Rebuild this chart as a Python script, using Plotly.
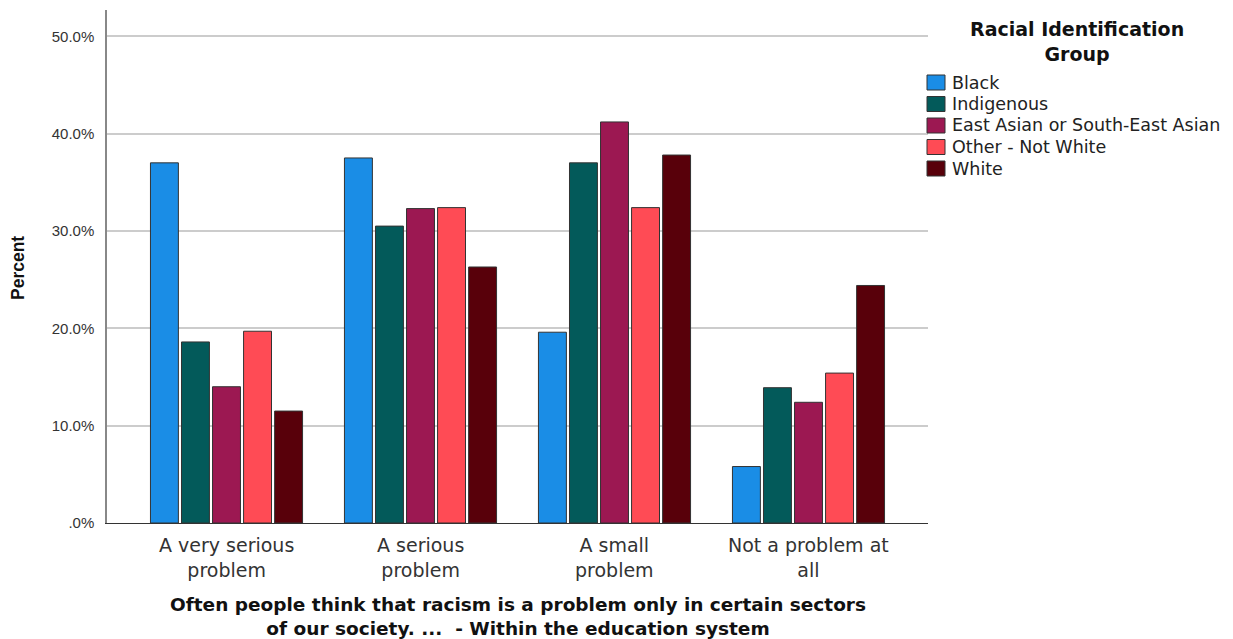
import plotly.graph_objects as go

categories = ["A very serious problem", "A serious problem", "A small problem", "Not a problem at all"]
category_labels = ["A very serious<br>problem", "A serious<br>problem", "A small<br>problem", "Not a problem at<br>all"]
groups = ["Black", "Indigenous", "East Asian or South-East Asian", "Other - Not White", "White"]
black = [37.0, 37.5, 19.6, 5.8]
indigenous = [18.6, 30.5, 37.0, 13.9]
east_asian = [14.0, 32.3, 41.2, 12.4]
other_not_white = [19.7, 32.4, 32.4, 15.4]
white = [11.5, 26.3, 37.8, 24.4]
series = [black, indigenous, east_asian, other_not_white, white]
colors = ["#1a8de6", "#035a5a", "#9c1852", "#ff4b55", "#58000a"]
tick_vals = [0, 10, 20, 30, 40, 50]
tick_text = [".0%", "10.0%", "20.0%", "30.0%", "40.0%", "50.0%"]
x_title = ("Often people think that racism is a problem only in certain sectors<br>"
           "of our society. ...  - Within the education system")
legend_title = "Racial Identification<br>Group"
y_title = "Percent"

PLOT_W, PLOT_H = 821, 513  # plot area in px


def px_x(page_x):
    return (page_x - 107) / PLOT_W


def px_y(page_y):
    return (523 - page_y) / PLOT_H


fig = go.Figure()
for name, vals, col in zip(groups, series, colors):
    fig.add_trace(go.Bar(
        x=list(range(len(categories))), y=vals, name=name,
        marker=dict(color=col, line=dict(color="#333333", width=1)),
        showlegend=False,
    ))

annotations = []
shapes = []
# category labels
for i, lab in enumerate(category_labels):
    annotations.append(dict(
        x=i, xref="x", y=px_y(557), yref="paper", text=lab, showarrow=False,
        xanchor="center", yanchor="middle", align="center",
        font=dict(family="DejaVu Sans, sans-serif", size=19, color="#333333"),
    ))
# x axis title
annotations.append(dict(
    x=0.5, xref="paper", y=px_y(616), yref="paper", text="<b>" + x_title + "</b>",
    showarrow=False, xanchor="center", yanchor="middle", align="center",
    font=dict(family="DejaVu Sans, sans-serif", size=18.5, color="#111111"),
))
# y axis title
annotations.append(dict(
    x=px_x(18), xref="paper", y=px_y(268), yref="paper", text="<b>" + y_title + "</b>",
    showarrow=False, textangle=-90, xanchor="center", yanchor="middle",
    font=dict(family="Liberation Sans, Arial, sans-serif", size=17.5, color="#111111"),
))
# legend title
annotations.append(dict(
    x=px_x(1076.5), xref="paper", y=px_y(41), yref="paper", text="<b>" + legend_title + "</b>",
    showarrow=False, xanchor="center", yanchor="middle", align="center",
    font=dict(family="DejaVu Sans, sans-serif", size=19, color="#111111"),
))
# legend items
for k, (name, col) in enumerate(zip(groups, colors)):
    cy = 82.5 + k * 21.5
    shapes.append(dict(
        type="rect", xref="paper", yref="paper",
        x0=px_x(927), x1=px_x(945), y0=px_y(cy + 7.5), y1=px_y(cy - 7.5),
        fillcolor=col, line=dict(color="#333333", width=1),
    ))
    annotations.append(dict(
        x=px_x(950), xref="paper", y=px_y(cy), yref="paper", text=name,
        showarrow=False, xanchor="left", yanchor="middle",
        font=dict(family="DejaVu Sans, sans-serif", size=17.5, color="#222222"),
    ))

fig.update_layout(
    width=1225, height=631,
    paper_bgcolor="white", plot_bgcolor="white",
    margin=dict(l=99, r=305, t=2, b=116),
    barmode="group", bargap=0.2, bargroupgap=0.1,
    font=dict(family="Liberation Sans, Arial, sans-serif", color="#222222"),
    showlegend=False,
    annotations=annotations,
    shapes=shapes,
)
fig.update_xaxes(
    tickvals=list(range(len(categories))), ticktext=[""] * len(categories),
    range=[-0.616, 3.616],
    showline=True, linecolor="#333333", linewidth=1,
    showgrid=False, ticks="",
)
fig.update_yaxes(
    range=[0, 52.7], tickvals=tick_vals, ticktext=tick_text,
    showline=True, linecolor="#888888", linewidth=1.5,
    showgrid=True, gridcolor="#cccccc", gridwidth=1.5,
    zeroline=False, ticks="", ticklabelstandoff=8,
    tickfont=dict(size=15, color="#333333"),
)

fig.write_html("out.html")
